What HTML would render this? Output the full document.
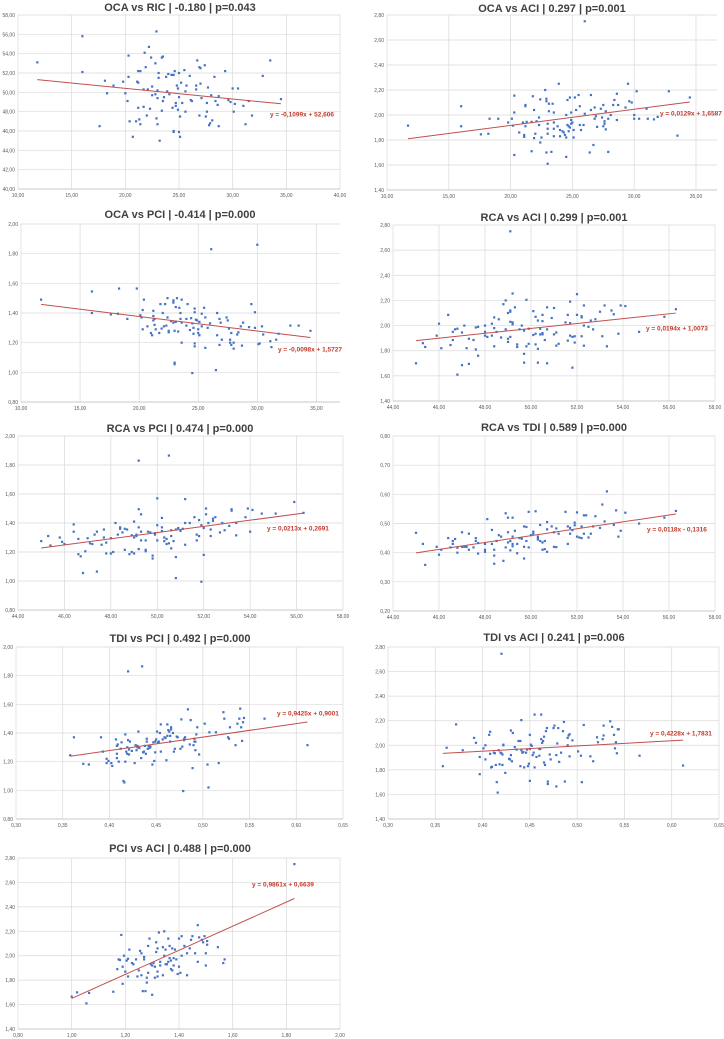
<!DOCTYPE html>
<html><head><meta charset="utf-8"><style>
html,body{margin:0;padding:0;background:#fff;}
svg{display:block;font-family:"Liberation Sans",sans-serif;}
</style></head><body>
<svg id="fig" width="724" height="1039" viewBox="0 0 724 1039"></svg>
<script>
const titles=["OCA vs RIC | -0.180 | p=0.043","OCA vs ACI | 0.297 | p=0.001","OCA vs PCI | -0.414 | p=0.000","RCA vs ACI | 0.299 | p=0.001","RCA vs PCI | 0.474 | p=0.000","RCA vs TDI | 0.589 | p=0.000","TDI vs PCI | 0.492 | p=0.000","TDI vs ACI | 0.241 | p=0.006","PCI vs ACI | 0.488 | p=0.000"];
const slopes=[-0.1099,0.0129,-0.0098,0.0194,0.0213,0.0118,0.9425,0.4228,0.9861];
const intercepts=[52.606,1.6587,1.5727,1.0073,0.2691,-0.1316,0.9001,1.7831,0.6639];
const eqLabels=["y = -0,1099x + 52,606","y = 0,0129x + 1,6587","y = -0,0098x + 1,5727","y = 0,0194x + 1,0073","y = 0,0213x + 0,2691","y = 0,0118x - 0,1316","y = 0,9425x + 0,9001","y = 0,4228x + 1,7831","y = 0,9861x + 0,6639"];
const ocaRic=[[11.8,53.1],[16,55.8],[16,52.1],[17.6,46.5],[18.1,51.2],[18.3,49.9],[18.9,50.7],[19.8,51.1],[20,49.9],[20.2,49.1],[20.3,51.6],[20.3,53.8],[20.4,47],[20.7,45.4],[21,47],[21.1,51.1],[21.2,51],[21.2,52.2],[21.2,48.4],[21.3,47.2],[21.4,46.7],[21.4,52.2],[21.7,48.5],[21.7,50.3],[21.8,54.1],[21.9,52.6],[22,47.6],[22.1,50.3],[22.2,54.7],[22.3,48.3],[22.4,53.6],[22.5,50.6],[22.5,49.7],[22.8,53],[22.8,49.8],[22.9,47.3],[22.9,56.3],[23,46.7],[23,49.4],[23,50.2],[23.1,51.5],[23.1,52],[23.2,45],[23.4,53.6],[23.4,48.1],[23.5,53.7],[23.5,49.1],[23.6,49.5],[23.8,51.6],[23.9,50.1],[24,51.9],[24.1,49.8],[24.3,51.8],[24.4,48.4],[24.5,46],[24.5,45.9],[24.5,51.8],[24.6,52.2],[24.7,48.9],[24.7,48.6],[24.8,50.7],[24.9,50.4],[24.9,48.2],[25,49.5],[25,45.9],[25,52],[25.1,47.5],[25.1,45.4],[25.2,51],[25.3,48.9],[25.5,52.3],[25.6,48],[25.6,50.1],[25.7,50.7],[26,51.7],[26.1,49.2],[26.2,49.1],[26.6,50.7],[26.6,50.3],[26.7,53.3],[26.9,47.6],[26.9,52.6],[27,50.9],[27,52.5],[27.1,49.4],[27.4,52.8],[27.5,47.5],[27.6,48.9],[27.6,48],[27.7,50.5],[27.8,46.6],[27.9,46.8],[28,49.7],[28.1,47.1],[28.3,51.6],[28.4,49.1],[28.6,48.7],[28.7,49.6],[28.7,46.5],[29.3,52.2],[29.6,49.2],[29.8,49],[30,50.4],[30.1,48],[30.2,48.8],[30.5,50.4],[31,48.6],[31.2,46.7],[31.5,49.1],[31.8,47.6],[32.8,51.7],[33.5,53.3],[34.5,49.3]];
const ocaAci=[[11.7,1.915],[16,2.07],[16,1.91],[17.6,1.845],[18.2,1.85],[18.3,1.97],[19,1.97],[19.8,1.94],[20.1,1.97],[20.2,1.915],[20.3,2.02],[20.3,2.155],[20.3,1.68],[20.7,1.86],[21,1.94],[21.1,1.84],[21.1,1.825],[21.2,1.91],[21.2,2.07],[21.2,2.08],[21.3,1.945],[21.7,1.945],[21.7,1.71],[21.8,2.15],[21.9,2.04],[21.9,1.815],[22,1.85],[22.1,1.95],[22.3,1.92],[22.3,1.98],[22.4,1.78],[22.4,2.125],[22.5,1.82],[22.8,2.2],[22.9,1.7],[22.9,2.13],[22.9,2.11],[23,1.85],[23,1.61],[23,1.89],[23,1.93],[23.1,2.03],[23.1,2.09],[23.3,1.705],[23.4,2.09],[23.5,2.02],[23.5,1.89],[23.5,1.94],[23.5,1.83],[23.8,1.91],[23.9,2.25],[24,1.83],[24,1.88],[24.2,1.87],[24.3,1.86],[24.4,1.84],[24.5,2],[24.5,1.665],[24.5,1.82],[24.6,1.92],[24.6,2.12],[24.7,1.87],[24.7,1.91],[24.8,2.14],[24.8,1.9],[24.9,1.93],[24.9,1.96],[24.9,2.02],[25,1.94],[25.1,1.82],[25.1,1.88],[25.2,2.14],[25.3,2.04],[25.5,2.16],[25.6,2.07],[25.6,1.92],[25.7,1.88],[25.9,1.92],[26,2.01],[26,2.75],[26.4,1.7],[26.5,2.16],[26.5,2.04],[26.7,1.76],[26.8,1.97],[26.8,2.06],[26.9,1.99],[27,1.905],[27.3,2.05],[27.4,1.98],[27.5,2.08],[27.5,1.91],[27.6,1.95],[27.6,1.93],[27.7,1.885],[27.7,2.03],[27.9,1.97],[27.9,1.705],[28.1,2],[28.3,2.08],[28.4,2.12],[28.6,2.17],[28.6,1.96],[28.7,2.08],[29.3,2.06],[29.5,2.25],[29.6,2.11],[29.8,2.1],[30,1.97],[30,2],[30.2,2.19],[30.4,1.97],[31,2.05],[31.1,1.97],[31.6,1.965],[31.9,1.985],[32.8,2.19],[33.5,1.835],[34.5,2.14]];
const ocaPci=[[11.7,1.49],[16,1.545],[16,1.4],[17.6,1.39],[18.2,1.395],[18.3,1.565],[19,1.36],[19.8,1.565],[20.1,1.385],[20.2,1.37],[20.3,1.42],[20.3,1.29],[20.4,1.49],[20.7,1.31],[21,1.265],[21.1,1.25],[21.2,1.415],[21.2,1.38],[21.2,1.35],[21.3,1.36],[21.3,1.32],[21.4,1.29],[21.7,1.265],[21.8,1.46],[21.9,1.295],[22,1.4],[22.1,1.31],[22.2,1.46],[22.3,1.315],[22.4,1.5],[22.4,1.37],[22.5,1.28],[22.5,1.27],[22.7,1.345],[22.9,1.335],[22.9,1.485],[22.9,1.47],[23,1.065],[23,1.055],[23,1.28],[23.1,1.34],[23.1,1.44],[23.2,1.5],[23.3,1.275],[23.4,1.435],[23.5,1.4],[23.5,1.36],[23.6,1.49],[23.6,1.2],[23.6,1.335],[24,1.36],[24,1.315],[24.1,1.46],[24.3,1.285],[24.4,1.365],[24.5,1.33],[24.5,0.995],[24.6,1.26],[24.6,1.3],[24.7,1.43],[24.7,1.405],[24.7,1.195],[24.7,1.175],[24.8,1.355],[24.9,1.35],[25,1.29],[25,1.265],[25.1,1.34],[25.1,1.25],[25.3,1.395],[25.3,1.31],[25.5,1.435],[25.6,1.37],[25.6,1.165],[25.8,1.3],[26,1.33],[26.1,1.83],[26.5,1.015],[26.6,1.4],[26.6,1.25],[26.8,1.36],[26.8,1.185],[26.9,1.335],[27,1.22],[27.4,1.37],[27.5,1.35],[27.6,1.295],[27.7,1.2],[27.7,1.22],[27.8,1.265],[27.8,1.185],[28,1.16],[28,1.2],[28.3,1.255],[28.4,1.27],[28.6,1.31],[28.7,1.18],[28.8,1.335],[29.3,1.305],[29.5,1.46],[29.8,1.3],[29.8,1.405],[30,1.86],[30.1,1.19],[30.2,1.195],[30.4,1.31],[30.5,1.255],[31.1,1.21],[31.2,1.17],[31.6,1.22],[31.8,1.26],[32.8,1.315],[33.5,1.315],[34.5,1.28]];
const rcaAci=[[45,1.7],[45.3,1.86],[45.4,1.83],[45.9,1.92],[46,2.015],[46.1,1.82],[46.4,2.085],[46.5,1.845],[46.6,1.885],[46.6,1.95],[46.7,1.97],[46.8,1.61],[46.8,1.975],[47,1.945],[47,1.685],[47.1,2],[47.2,1.82],[47.3,1.895],[47.3,1.695],[47.5,1.885],[47.6,1.985],[47.6,1.81],[47.7,1.76],[47.7,1.99],[48,1.92],[48,1.95],[48,2],[48.1,1.91],[48.3,1.92],[48.3,2.015],[48.4,2.065],[48.4,1.98],[48.4,1.835],[48.5,1.95],[48.6,2.05],[48.7,1.905],[48.8,2.17],[48.9,1.97],[48.9,2.2],[49,1.87],[49,1.895],[49,2.1],[49.1,2.11],[49.1,2.12],[49.1,1.91],[49.1,2.03],[49.1,2.75],[49.2,2.025],[49.2,2.01],[49.2,2.255],[49.3,2.145],[49.4,1.85],[49.4,1.83],[49.5,1.97],[49.6,2],[49.7,1.96],[49.7,1.775],[49.7,1.705],[49.8,1.835],[49.8,2.205],[49.9,1.855],[49.9,1.975],[50.1,2.115],[50.1,1.925],[50.2,2.07],[50.2,1.935],[50.2,1.85],[50.3,1.815],[50.3,1.705],[50.3,2.04],[50.4,1.93],[50.4,1.975],[50.5,2.085],[50.5,2.035],[50.5,1.94],[50.5,1.93],[50.6,1.885],[50.7,2.145],[50.7,1.97],[50.7,1.7],[50.9,2.06],[51,1.93],[51,2.14],[51.1,1.84],[51.1,1.945],[51.2,1.855],[51.5,2.025],[51.6,2.085],[51.6,1.88],[51.7,2.19],[51.7,2.02],[51.7,1.92],[51.8,1.665],[51.8,1.91],[51.9,1.865],[51.9,1.915],[52,2.25],[52,2.085],[52.2,1.915],[52.2,2.075],[52.2,2.065],[52.3,2],[52.3,1.84],[52.3,2.16],[52.5,1.99],[52.6,2.04],[52.7,1.97],[52.8,2.05],[53,2.11],[53.1,1.915],[53.2,2.16],[53.3,1.835],[53.5,2.12],[53.6,2.09],[53.8,1.935],[53.9,2.16],[54.1,2.155],[54.7,1.95],[55.8,2.07],[56.3,2.13]];
const rcaPci=[[45,1.275],[45.3,1.31],[45.4,1.245],[45.8,1.3],[45.9,1.27],[46,1.255],[46.4,1.34],[46.4,1.39],[46.6,1.29],[46.6,1.185],[46.7,1.17],[46.8,1.055],[46.9,1.205],[47,1.295],[47.1,1.26],[47.2,1.255],[47.3,1.32],[47.4,1.34],[47.4,1.065],[47.6,1.25],[47.7,1.355],[47.7,1.3],[47.8,1.19],[47.8,1.265],[48,1.295],[48,1.19],[48.1,1.2],[48.2,1.4],[48.3,1.32],[48.4,1.36],[48.4,1.37],[48.5,1.335],[48.6,1.36],[48.6,1.215],[48.7,1.355],[48.8,1.185],[48.9,1.315],[48.9,1.2],[49,1.41],[49,1.19],[49,1.3],[49.1,1.32],[49.1,1.31],[49.2,1.83],[49.2,1.495],[49.2,1.37],[49.2,1.22],[49.3,1.34],[49.3,1.46],[49.3,1.28],[49.5,1.28],[49.5,1.215],[49.5,1.205],[49.6,1.34],[49.7,1.335],[49.8,1.175],[49.8,1.155],[49.9,1.32],[49.9,1.33],[50,1.28],[50,1.57],[50,1.385],[50.2,1.435],[50.2,1.37],[50.2,1.345],[50.3,1.3],[50.3,1.275],[50.4,1.255],[50.4,1.29],[50.5,1.865],[50.5,1.26],[50.6,1.225],[50.6,1.35],[50.6,1.31],[50.7,1.275],[50.8,1.355],[50.8,1.165],[50.8,1.02],[50.9,1.365],[51,1.345],[51.1,1.36],[51.2,1.4],[51.2,1.25],[51.2,1.565],[51.4,1.4],[51.6,1.44],[51.7,1.28],[51.7,1.32],[51.8,1.42],[51.8,1.31],[51.9,0.995],[51.9,1.385],[52,1.365],[52,1.18],[52.1,1.5],[52.1,1.46],[52.2,1.4],[52.3,1.31],[52.3,1.355],[52.4,1.415],[52.4,1.43],[52.5,1.44],[52.7,1.335],[52.8,1.4],[52.9,1.35],[53.1,1.38],[53.2,1.485],[53.2,1.495],[53.4,1.315],[53.4,1.4],[53.8,1.44],[53.9,1.5],[54,1.34],[54.1,1.49],[54.5,1.465],[55.1,1.465],[55.9,1.545],[56.3,1.47]];
const rcaTdi=[[45,0.468],[45.3,0.43],[45.4,0.358],[45.9,0.42],[46,0.393],[46.1,0.41],[46.4,0.45],[46.5,0.418],[46.6,0.43],[46.6,0.44],[46.7,0.447],[46.8,0.417],[46.8,0.4],[47,0.42],[47,0.47],[47.1,0.42],[47.2,0.42],[47.3,0.41],[47.3,0.465],[47.5,0.418],[47.6,0.45],[47.6,0.44],[47.7,0.397],[47.7,0.433],[48,0.43],[48,0.403],[48,0.41],[48.1,0.515],[48.3,0.43],[48.3,0.478],[48.4,0.41],[48.4,0.39],[48.4,0.362],[48.5,0.44],[48.6,0.46],[48.7,0.455],[48.8,0.372],[48.9,0.535],[48.9,0.418],[49,0.47],[49,0.435],[49,0.52],[49.1,0.408],[49.1,0.44],[49.2,0.52],[49.2,0.455],[49.2,0.422],[49.2,0.43],[49.3,0.475],[49.4,0.398],[49.4,0.43],[49.5,0.45],[49.6,0.448],[49.7,0.49],[49.7,0.38],[49.7,0.42],[49.8,0.44],[49.8,0.488],[49.9,0.418],[49.9,0.54],[50,0.46],[50.1,0.472],[50.1,0.465],[50.2,0.542],[50.3,0.455],[50.3,0.445],[50.3,0.45],[50.4,0.495],[50.4,0.44],[50.5,0.435],[50.5,0.41],[50.6,0.44],[50.6,0.412],[50.7,0.403],[50.7,0.48],[50.7,0.505],[50.9,0.49],[51,0.42],[51,0.47],[51.1,0.419],[51.1,0.483],[51.2,0.465],[51.5,0.54],[51.6,0.43],[51.6,0.49],[51.7,0.465],[51.7,0.485],[51.8,0.477],[51.9,0.494],[51.9,0.503],[52,0.455],[52,0.538],[52.1,0.452],[52.2,0.45],[52.2,0.49],[52.3,0.528],[52.3,0.465],[52.4,0.528],[52.5,0.452],[52.6,0.465],[52.7,0.49],[52.8,0.525],[53,0.485],[53.1,0.565],[53.2,0.507],[53.3,0.61],[53.6,0.495],[53.7,0.545],[53.8,0.455],[53.9,0.475],[54.1,0.537],[54.7,0.5],[55.8,0.52],[56.3,0.543]];
const tdiPci=[[0.358,1.245],[0.362,1.37],[0.372,1.185],[0.378,1.18],[0.391,1.37],[0.393,1.27],[0.397,1.19],[0.397,1.22],[0.399,1.205],[0.402,1.19],[0.403,1.17],[0.407,1.355],[0.408,1.225],[0.408,1.255],[0.408,1.31],[0.409,1.32],[0.41,1.2],[0.412,1.29],[0.413,1.335],[0.415,1.065],[0.416,1.055],[0.417,1.2],[0.417,1.39],[0.418,1.27],[0.419,1.3],[0.419,1.255],[0.42,1.35],[0.42,1.83],[0.421,1.25],[0.421,1.285],[0.422,1.34],[0.424,1.275],[0.427,1.19],[0.428,1.315],[0.429,1.28],[0.43,1.31],[0.43,1.3],[0.431,1.41],[0.432,1.295],[0.434,1.225],[0.435,1.865],[0.436,1.265],[0.437,1.27],[0.438,1.31],[0.439,1.255],[0.44,1.36],[0.44,1.34],[0.441,1.29],[0.442,1.31],[0.443,1.295],[0.444,1.305],[0.446,1.18],[0.447,1.335],[0.448,1.205],[0.449,1.34],[0.449,1.265],[0.45,1.355],[0.451,1.41],[0.452,1.335],[0.453,1.34],[0.454,1.4],[0.455,1.27],[0.455,1.46],[0.457,1.355],[0.459,1.37],[0.46,1.365],[0.461,1.21],[0.462,1.38],[0.462,1.46],[0.463,1.42],[0.464,1.41],[0.465,1.34],[0.465,1.38],[0.466,1.425],[0.466,1.44],[0.468,1.4],[0.469,1.27],[0.47,1.29],[0.472,1.375],[0.473,1.37],[0.476,1.29],[0.477,1.495],[0.478,1.305],[0.479,0.995],[0.48,1.36],[0.48,1.35],[0.481,1.37],[0.484,1.565],[0.486,1.32],[0.487,1.49],[0.489,1.155],[0.49,1.315],[0.491,1.34],[0.491,1.36],[0.492,1.34],[0.492,1.28],[0.493,1.39],[0.494,1.44],[0.496,1.25],[0.502,1.465],[0.505,1.18],[0.506,1.02],[0.507,1.405],[0.514,1.405],[0.517,1.19],[0.522,1.545],[0.523,1.5],[0.527,1.37],[0.528,1.36],[0.529,1.44],[0.535,1.315],[0.537,1.465],[0.539,1.5],[0.54,1.57],[0.541,1.44],[0.542,1.345],[0.543,1.475],[0.544,1.505],[0.566,1.5],[0.612,1.315]];
const tdiAci=[[0.358,1.83],[0.362,1.98],[0.372,2.17],[0.379,1.96],[0.391,2.06],[0.393,2.02],[0.397,1.765],[0.397,1.905],[0.401,1.975],[0.403,2],[0.403,1.885],[0.407,2.085],[0.408,2.11],[0.408,1.93],[0.409,1.82],[0.41,1.825],[0.412,1.94],[0.413,1.935],[0.414,1.84],[0.415,1.7],[0.416,1.615],[0.417,1.96],[0.418,1.845],[0.419,1.94],[0.42,1.935],[0.42,2.745],[0.421,1.84],[0.421,1.925],[0.422,2],[0.422,2.005],[0.424,1.775],[0.428,1.89],[0.429,1.885],[0.43,2.12],[0.43,1.92],[0.431,1.87],[0.432,2.1],[0.434,1.985],[0.436,1.965],[0.438,2.035],[0.44,2.035],[0.44,1.83],[0.441,1.96],[0.441,2.205],[0.442,1.94],[0.443,1.945],[0.444,1.82],[0.446,1.94],[0.447,1.965],[0.448,1.83],[0.449,1.85],[0.45,1.97],[0.45,2.085],[0.45,1.71],[0.451,2.005],[0.452,1.995],[0.453,1.92],[0.454,1.94],[0.455,1.82],[0.455,2.25],[0.457,1.905],[0.46,1.915],[0.46,1.97],[0.461,1.97],[0.462,2.05],[0.462,2.25],[0.463,2.02],[0.464,2.035],[0.465,2.07],[0.465,1.86],[0.466,1.84],[0.467,2.115],[0.468,2.14],[0.469,1.705],[0.469,1.685],[0.471,1.925],[0.472,1.885],[0.475,2.14],[0.476,2.16],[0.478,1.92],[0.478,1.665],[0.479,2.015],[0.48,2.14],[0.481,1.865],[0.483,1.94],[0.485,2.115],[0.486,2.19],[0.487,1.705],[0.49,2.06],[0.49,2],[0.491,2.08],[0.492,1.91],[0.492,2.09],[0.495,2.04],[0.501,1.95],[0.504,1.915],[0.505,1.7],[0.507,2.165],[0.514,1.91],[0.517,1.87],[0.521,2.065],[0.522,2.025],[0.527,2.05],[0.528,2.08],[0.528,2.16],[0.535,2.195],[0.537,2.15],[0.539,2.085],[0.54,1.975],[0.541,2.025],[0.542,1.935],[0.543,2.13],[0.544,2.13],[0.566,1.915],[0.612,1.835]];
const pciAci=[[1,1.665],[1.02,1.7],[1.055,1.61],[1.065,1.695],[1.155,1.705],[1.17,1.89],[1.175,1.97],[1.18,1.965],[1.185,2.17],[1.19,1.91],[1.19,1.77],[1.195,2],[1.2,1.87],[1.205,1.96],[1.21,1.975],[1.21,1.83],[1.215,2.05],[1.225,1.94],[1.23,1.93],[1.24,1.97],[1.245,1.83],[1.25,1.88],[1.255,2.04],[1.26,1.84],[1.26,2.02],[1.265,1.71],[1.27,1.97],[1.27,1.99],[1.275,1.71],[1.28,1.82],[1.28,1.78],[1.285,1.86],[1.285,2.08],[1.29,2.14],[1.295,1.93],[1.3,1.68],[1.3,1.92],[1.305,1.94],[1.31,1.91],[1.31,1.82],[1.315,2.11],[1.315,2.03],[1.32,1.83],[1.32,1.87],[1.32,2.06],[1.325,2.19],[1.33,1.95],[1.33,1.92],[1.34,1.84],[1.34,2.07],[1.345,2],[1.345,2.2],[1.35,1.93],[1.35,2.05],[1.355,1.93],[1.36,2.14],[1.36,1.95],[1.365,2.08],[1.365,1.98],[1.37,1.89],[1.37,1.96],[1.375,1.88],[1.375,2.06],[1.38,1.92],[1.38,1.98],[1.385,2.05],[1.39,1.97],[1.395,1.85],[1.4,1.91],[1.4,2.14],[1.405,1.86],[1.41,2],[1.41,2.16],[1.42,2.08],[1.43,1.84],[1.43,2.02],[1.44,2.06],[1.445,2.13],[1.45,2.16],[1.46,2.02],[1.47,2.25],[1.47,1.95],[1.475,2.15],[1.485,2.13],[1.49,2.11],[1.495,2.16],[1.5,1.92],[1.5,2.02],[1.505,2.12],[1.505,2.09],[1.545,2.07],[1.565,1.94],[1.57,1.97],[1.83,2.75]];
const datasets=[ocaRic,ocaAci,ocaPci,rcaAci,rcaPci,rcaTdi,tdiPci,tdiAci,pciAci];
const xTicks=[[10,15,20,25,30,35,40],[10,15,20,25,30,35],[10,15,20,25,30,35],[44,46,48,50,52,54,56,58],[44,46,48,50,52,54,56,58],[44,46,48,50,52,54,56,58],[0.30,0.35,0.40,0.45,0.50,0.55,0.60,0.65],[0.30,0.35,0.40,0.45,0.50,0.55,0.60,0.65],[0.80,1.00,1.20,1.40,1.60,1.80,2.00]];
const yTicks=[[40,42,44,46,48,50,52,54,56,58],[1.4,1.6,1.8,2.0,2.2,2.4,2.6,2.8],[0.8,1.0,1.2,1.4,1.6,1.8,2.0],[1.4,1.6,1.8,2.0,2.2,2.4,2.6,2.8],[0.8,1.0,1.2,1.4,1.6,1.8,2.0],[0.2,0.3,0.4,0.5,0.6,0.7,0.8],[0.8,1.0,1.2,1.4,1.6,1.8,2.0],[1.4,1.6,1.8,2.0,2.2,2.4,2.6,2.8],[1.4,1.6,1.8,2.0,2.2,2.4,2.6,2.8]];
// layout (pixel geometry, not data)
const L=[
 {l:18,t:15,r:340,b:189,xmax:40,ty:7,tx:180,ex:270,ey:114},
 {l:387,t:15,r:717,b:190,xmax:36.7,ty:8,tx:552,ex:660,ey:113},
 {l:21,t:224,r:340,b:402,xmax:37.0,ty:214,tx:180,ex:278,ey:349},
 {l:393,t:225,r:715,b:401,xmax:58,ty:217,tx:554,ex:646,ey:328},
 {l:18,t:436,r:343,b:610,xmax:58,ty:428,tx:180,ex:267,ey:528},
 {l:393,t:436,r:715,b:611,xmax:58,ty:427,tx:554,ex:647,ey:529},
 {l:16,t:647,r:343,b:819,xmax:0.65,ty:638,tx:180,ex:277,ey:713},
 {l:388,t:647,r:719,b:819,xmax:0.65,ty:637,tx:554,ex:650,ey:733},
 {l:18,t:858,r:340,b:1029,xmax:2.0,ty:848,tx:180,ex:252,ey:884}];
const NS="http://www.w3.org/2000/svg";
const svg=document.getElementById('fig');
function mk(tag,attrs,parent){const e=document.createElementNS(NS,tag);for(const k in attrs)e.setAttribute(k,attrs[k]);parent.appendChild(e);return e;}
function fmt(v){return v.toFixed(2).replace('.',',');}
datasets.forEach((data,i)=>{
 const g=L[i];
 const xt=xTicks[i],yt=yTicks[i];
 const x0=xt[0],x1=g.xmax,y0=yt[0],y1=yt[yt.length-1];
 const sx=v=>g.l+(v-x0)/(x1-x0)*(g.r-g.l);
 const sy=v=>g.b-(v-y0)/(y1-y0)*(g.b-g.t);
 const grp=mk('g',{},svg);
 
 
 const title=mk('text',{x:g.tx,y:g.ty+4,'text-anchor':'middle','font-size':'11','font-weight':'bold',fill:'#404040'},grp);
 title.textContent=titles[i];
 
 
 yt.forEach(v=>{
  const y=sy(v);
  const ln=mk('line',{x1:g.l,x2:g.r,y1:y,y2:y,stroke:'#d9d9d9','stroke-width':0.7},grp);
  
  
  const tx=mk('text',{x:g.l-3,y:y+2,'text-anchor':'end','font-size':'5',fill:'#595959'},grp);
  tx.textContent=fmt(v);
  
  
 });
 xt.forEach(v=>{
  const x=sx(v);
  const ln=mk('line',{x1:x,x2:x,y1:g.t,y2:g.b,stroke:'#d9d9d9','stroke-width':0.7},grp);
  
  
  const tx=mk('text',{x:x,y:g.b+8,'text-anchor':'middle','font-size':'5',fill:'#595959'},grp);
  tx.textContent=fmt(v);
  
  
 });
 const ax=mk('line',{x1:g.l,x2:g.r,y1:g.b,y2:g.b,stroke:'#bfbfbf','stroke-width':0.8},grp);
 
 
 data.forEach(p=>{
  const c=mk('rect',{x:sx(p[0])-1.1,y:sy(p[1])-1.1,width:2.2,height:2.2,fill:'#4472c4'},grp);
  
  
 });
 let mn=Infinity,mx=-Infinity;data.forEach(p=>{mn=Math.min(mn,p[0]);mx=Math.max(mx,p[0]);});
 const tl=mk('line',{x1:sx(mn),y1:sy(slopes[i]*mn+intercepts[i]),x2:sx(mx),y2:sy(slopes[i]*mx+intercepts[i]),stroke:'#c0504d','stroke-width':1},grp);
 
 
 const eq=mk('text',{x:g.ex,y:g.ey+2.5,'font-size':'6.5','font-weight':'bold',fill:'#c0392b'},grp);
 eq.textContent=eqLabels[i];
 
 
});
</script>
</body></html>
